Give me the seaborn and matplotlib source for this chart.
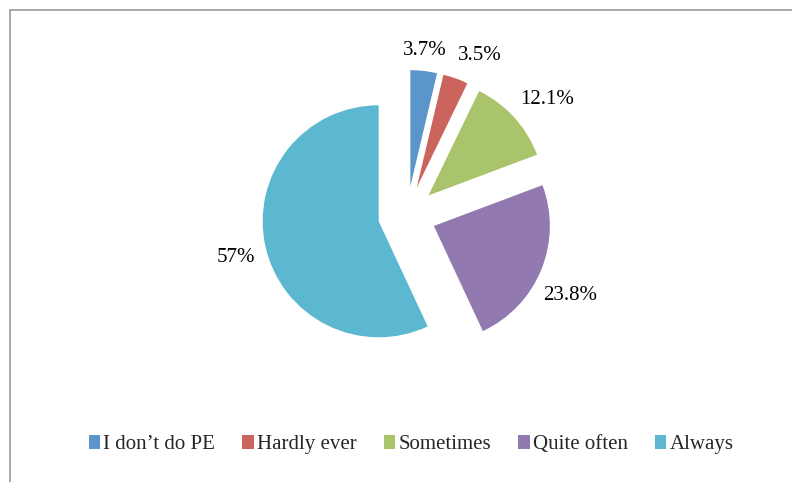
import matplotlib
matplotlib.use("Agg")
import numpy as np
import seaborn as sns
import matplotlib.pyplot as plt
from matplotlib.patches import Rectangle

# Data
categories = ["I don\u2019t do PE", "Hardly ever", "Sometimes", "Quite often", "Always"]
shares = [3.7, 3.5, 12.1, 23.8, 57]
share_labels = ["3.7%", "3.5%", "12.1%", "23.8%", "57%"]

# Styling
colors = ["#5B95CA", "#CC645E", "#A9C46B", "#9279B0", "#5BB8D0"]
label_dist = [1.43, 1.515, 1.567, 1.57, 1.52]
label_turn = [0.5, -4.9, -2.7, -4, 1.5]  # degrees, nudges off the bisector

sns.set_theme(style="white")
plt.rcParams["font.family"] = ["Liberation Serif", "DejaVu Serif"]

fig = plt.figure(figsize=(7.92, 4.82), dpi=100)
ax = fig.add_axes([0, 0, 1, 1])
ax.axis("off")

wedges, _ = ax.pie(shares, colors=colors, startangle=90, counterclock=False,
                   explode=[0.25] * len(shares), radius=1,
                   wedgeprops=dict(linewidth=0))

# one data unit = 116 px, pie centre at (407, 215) px
r_px = 116
ax.set_xlim(-407 / r_px, (792 - 407) / r_px)
ax.set_ylim(-(482 - 215) / r_px, 215 / r_px)
ax.set_aspect("auto")

for w, lab, d, turn in zip(wedges, share_labels, label_dist, label_turn):
    mid = np.deg2rad((w.theta1 + w.theta2) / 2 + turn)
    ax.text(d * np.cos(mid), d * np.sin(mid), lab, ha="center", va="center",
            fontsize=15, color="black")

fig.legend(wedges, categories, loc="center", bbox_to_anchor=(0.519, 0.077),
           ncol=5, frameon=False, fontsize=15, handlelength=0.55,
           handleheight=0.6, handletextpad=0.15, columnspacing=1.3)

# chart frame (only left and top edges are in view)
fig.add_artist(Rectangle((9.5 / 792, -0.1), 1.2, (482 - 9.5) / 482 + 0.1,
                         transform=fig.transFigure, fill=False,
                         edgecolor="#999999", linewidth=1.2))

fig.savefig("out.png", dpi=100)
